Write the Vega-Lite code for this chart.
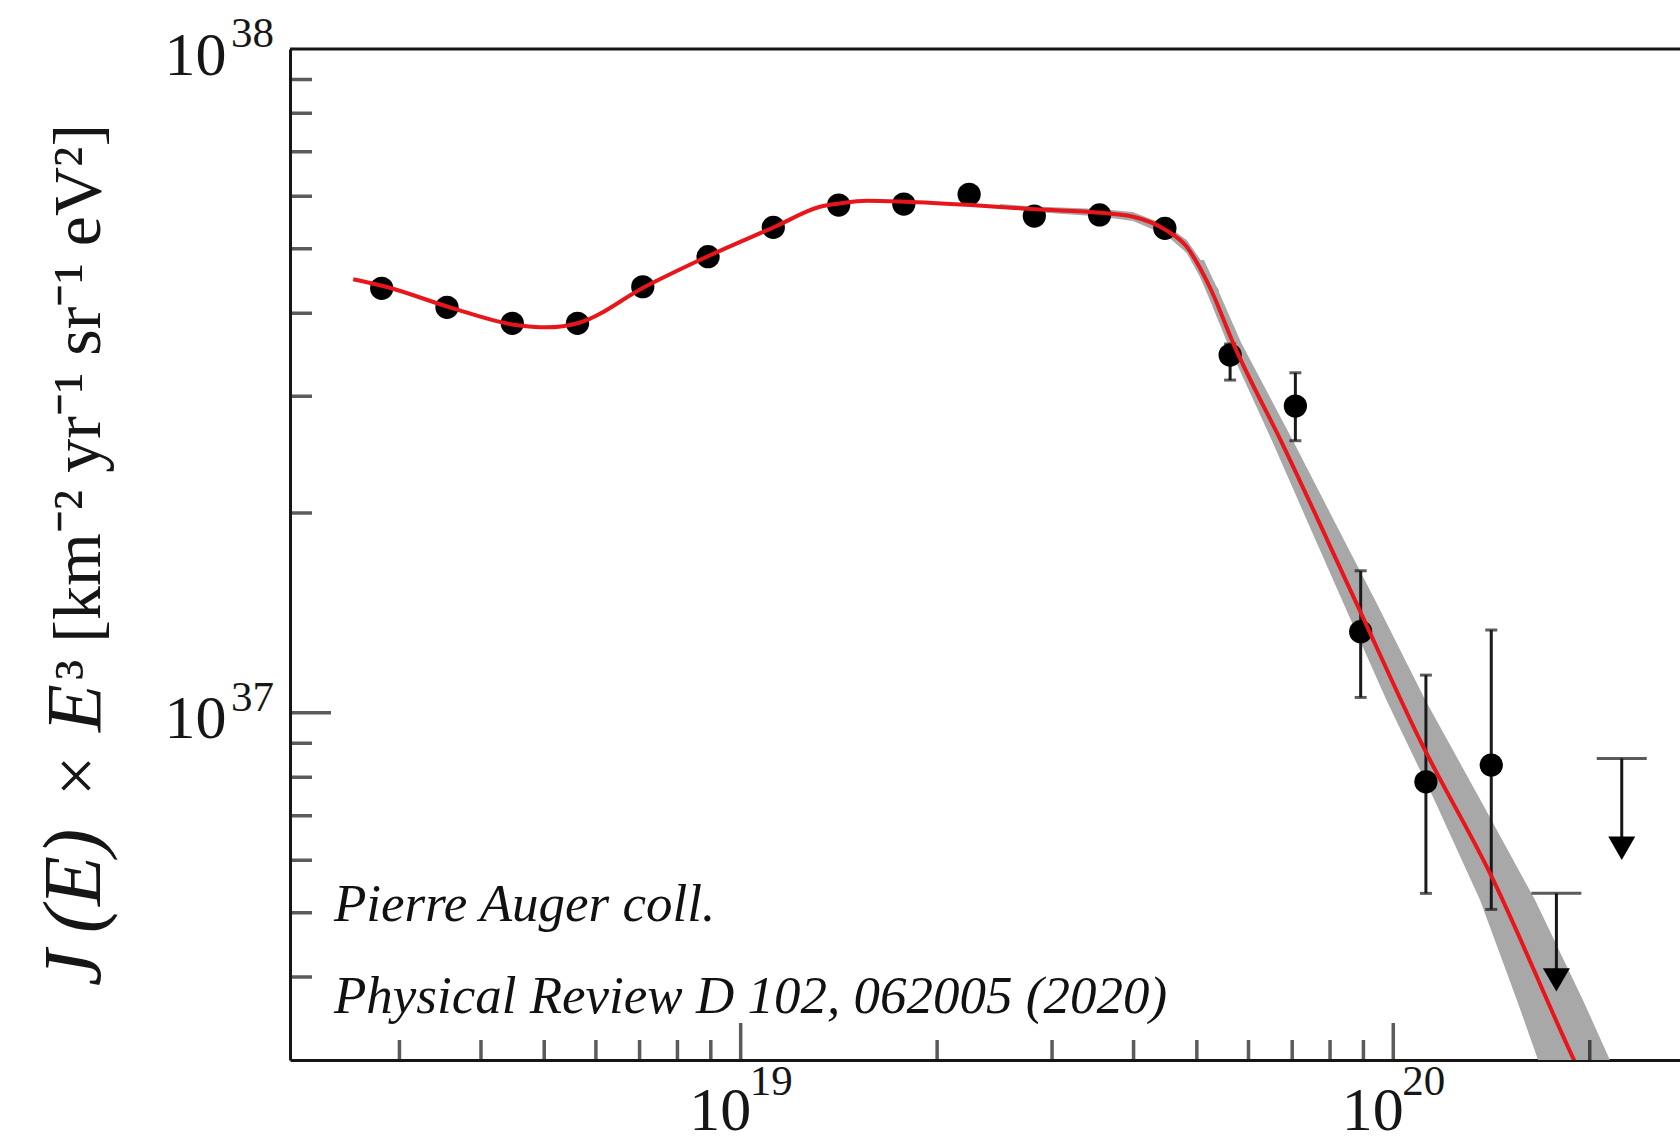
{
  "$schema": "https://vega.github.io/schema/vega-lite/v6.json",
  "width": 1390,
  "height": 1011,
  "autosize": {"type": "none"},
  "padding": {"left": 290, "top": 49, "right": 0, "bottom": 84},
  "background": "white",
  "config": {
    "view": {"stroke": null},
    "font": "Liberation Serif",
    "axis": {
      "grid": false, "ticks": false, "title": null,
      "domainColor": "#161616", "domainWidth": 3,
      "labelFont": "Liberation Serif", "labelFontSize": 62, "labelColor": "#161616",
      "labelFlush": false, "labelOverlap": false
    }
  },
  "datasets": {
    "spectrum": [
      {"E": 2.818e18, "F": 4.360e37},
      {"E": 3.548e18, "F": 4.082e37},
      {"E": 4.467e18, "F": 3.862e37},
      {"E": 5.623e18, "F": 3.862e37},
      {"E": 7.079e18, "F": 4.384e37},
      {"E": 8.913e18, "F": 4.865e37},
      {"E": 1.122e19, "F": 5.387e37},
      {"E": 1.413e19, "F": 5.821e37},
      {"E": 1.778e19, "F": 5.841e37},
      {"E": 2.239e19, "F": 6.041e37},
      {"E": 2.818e19, "F": 5.603e37},
      {"E": 3.548e19, "F": 5.623e37},
      {"E": 4.467e19, "F": 5.369e37},
      {"E": 5.623e19, "F": 3.459e37, "lo": 3.172e37, "hi": 3.594e37},
      {"E": 7.079e19, "F": 2.899e37, "lo": 2.570e37, "hi": 3.253e37},
      {"E": 8.913e19, "F": 1.325e37, "lo": 1.055e37, "hi": 1.637e37},
      {"E": 1.122e20, "F": 7.874e36, "lo": 5.347e36, "hi": 1.140e37},
      {"E": 1.413e20, "F": 8.344e36, "lo": 5.058e36, "hi": 1.333e37}
    ],
    "limits": [
      {"E": 1.778e20, "bar": 5.347e36, "arrow": 3.961e36},
      {"E": 2.239e20, "bar": 8.540e36, "arrow": 6.252e36}
    ],
    "fit": [
      {"E": 2.549e18, "F": 4.499e37},
      {"E": 2.861e18, "F": 4.384e37},
      {"E": 3.585e18, "F": 4.082e37},
      {"E": 4.522e18, "F": 3.839e37},
      {"E": 5.043e18, "F": 3.808e37},
      {"E": 5.657e18, "F": 3.870e37},
      {"E": 7.135e18, "F": 4.384e37},
      {"E": 8.995e18, "F": 4.894e37},
      {"E": 1.129e19, "F": 5.399e37},
      {"E": 1.323e19, "F": 5.785e37},
      {"E": 1.420e19, "F": 5.854e37},
      {"E": 1.560e19, "F": 5.908e37},
      {"E": 1.786e19, "F": 5.888e37},
      {"E": 2.251e19, "F": 5.821e37},
      {"E": 2.828e19, "F": 5.734e37},
      {"E": 3.561e19, "F": 5.667e37},
      {"E": 3.996e19, "F": 5.589e37},
      {"E": 4.485e19, "F": 5.336e37},
      {"E": 4.825e19, "F": 5.036e37},
      {"E": 5.056e19, "F": 4.678e37},
      {"E": 5.275e19, "F": 4.305e37},
      {"E": 5.686e19, "F": 3.602e37},
      {"E": 6.776e19, "F": 2.532e37},
      {"E": 8.736e19, "F": 1.479e37},
      {"E": 1.105e20, "F": 8.995e36},
      {"E": 1.407e20, "F": 5.730e36},
      {"E": 1.887e20, "F": 3.016e36},
      {"E": 2.073e20, "F": 2.477e36}
    ],
    "bandKnee": [
      {"E": 2.496e19, "lo": 5.761e37, "hi": 5.841e37},
      {"E": 2.825e19, "lo": 5.682e37, "hi": 5.792e37},
      {"E": 3.553e19, "lo": 5.593e37, "hi": 5.741e37},
      {"E": 3.991e19, "lo": 5.506e37, "hi": 5.682e37},
      {"E": 4.485e19, "lo": 5.245e37, "hi": 5.431e37},
      {"E": 4.825e19, "lo": 4.929e37, "hi": 5.155e37},
      {"E": 5.056e19, "lo": 4.535e37, "hi": 4.826e37},
      {"E": 5.275e19, "lo": 4.115e37, "hi": 4.487e37},
      {"E": 5.406e19, "lo": 3.879e37, "hi": 4.335e37}
    ],
    "bandTail": [
      {"F": 4.810e37, "Elo": 4.967e19, "Ehi": 5.128e19},
      {"F": 4.305e37, "Elo": 5.183e19, "Ehi": 5.406e19},
      {"F": 3.607e37, "Elo": 5.567e19, "Ehi": 5.849e19},
      {"F": 2.576e37, "Elo": 6.510e19, "Ehi": 7.010e19},
      {"F": 1.951e37, "Elo": 7.371e19, "Ehi": 8.107e19},
      {"F": 1.479e37, "Elo": 8.344e19, "Ehi": 9.376e19},
      {"F": 1.045e37, "Elo": 9.763e19, "Ehi": 1.120e20},
      {"F": 7.390e36, "Elo": 1.156e20, "Ehi": 1.360e20},
      {"F": 5.224e36, "Elo": 1.358e20, "Ehi": 1.649e20},
      {"F": 3.692e36, "Elo": 1.547e20, "Ehi": 1.953e20},
      {"F": 2.998e36, "Elo": 1.667e20, "Ehi": 2.148e20},
      {"F": 2.610e36, "Elo": 1.763e20, "Ehi": 2.297e20}
    ],
    "yMinor": [
      {"v": 4e36}, {"v": 5e36}, {"v": 6e36}, {"v": 7e36}, {"v": 8e36}, {"v": 9e36},
      {"v": 2e37}, {"v": 3e37}, {"v": 4e37}, {"v": 5e37}, {"v": 6e37}, {"v": 7e37}, {"v": 8e37}, {"v": 9e37}
    ],
    "yMajor": [{"v": 1e37}],
    "xMinor": [
      {"v": 3e18}, {"v": 4e18}, {"v": 5e18}, {"v": 6e18}, {"v": 7e18}, {"v": 8e18}, {"v": 9e18},
      {"v": 2e19}, {"v": 3e19}, {"v": 4e19}, {"v": 5e19}, {"v": 6e19}, {"v": 7e19}, {"v": 8e19}, {"v": 9e19},
      {"v": 2e20}
    ],
    "xMajor": [{"v": 1e19}, {"v": 1e20}],
    "xExp": [{"v": 1e19, "t": "19"}, {"v": 1e20, "t": "20"}],
    "yExp": [{"v": 1e37, "t": "37"}, {"v": 1e38, "t": "38"}]
  },
  "layer": [
    {
      "data": {"name": "bandKnee"},
      "mark": {"type": "area", "color": "#a8a8a8", "opacity": 1, "interpolate": "linear", "clip": true},
      "encoding": {
        "x": {
          "field": "E", "type": "quantitative",
          "scale": {"type": "log", "domain": [2.039e18, 2.75e20]},
          "axis": {
            "values": [1e19, 1e20],
            "labelExpr": "'10'",
            "ticks": false, "grid": false, "title": null,
            "domainColor": "#161616", "domainWidth": 3,
            "labelFont": "Liberation Serif", "labelFontSize": 62, "labelColor": "#161616",
            "labelAlign": "right", "labelBaseline": "alphabetic", "labelOffset": 10,
            "labelPadding": 69, "labelFlush": false, "labelOverlap": false
          }
        },
        "y": {
          "field": "hi", "type": "quantitative",
          "scale": {"type": "log", "domain": [3e36, 1e38]},
          "axis": {
            "values": [1e37, 1e38],
            "labelExpr": "'10'",
            "ticks": false, "grid": false, "title": null,
            "domainColor": "#161616", "domainWidth": 3,
            "labelFont": "Liberation Serif", "labelFontSize": 62, "labelColor": "#161616",
            "labelAlign": "right", "labelBaseline": "alphabetic", "labelOffset": 25,
            "labelPadding": 64, "labelFlush": false, "labelOverlap": false
          }
        },
        "y2": {"field": "lo"}
      }
    },
    {
      "data": {"name": "bandTail"},
      "mark": {"type": "area", "orient": "horizontal", "color": "#a8a8a8", "opacity": 1, "interpolate": "linear", "clip": true},
      "encoding": {
        "y": {"field": "F", "type": "quantitative", "scale": {"type": "log", "domain": [3e36, 1e38]}},
        "x": {"field": "Elo", "type": "quantitative", "scale": {"type": "log", "domain": [2.039e18, 2.75e20]}},
        "x2": {"field": "Ehi"}
      }
    },
    {
      "data": {"name": "spectrum"},
      "transform": [{"filter": "datum.lo != null"}],
      "mark": {"type": "rule", "color": "#1a1a1a", "strokeWidth": 3},
      "encoding": {
        "x": {"field": "E", "type": "quantitative", "scale": {"type": "log", "domain": [2.039e18, 2.75e20]}},
        "y": {"field": "lo", "type": "quantitative", "scale": {"type": "log", "domain": [3e36, 1e38]}},
        "y2": {"field": "hi"}
      }
    },
    {
      "data": {"name": "spectrum"},
      "transform": [{"filter": "datum.lo != null"}, {"fold": ["lo", "hi"], "as": ["end", "val"]}],
      "mark": {"type": "tick", "orient": "horizontal", "color": "#1a1a1a", "size": 12, "thickness": 3},
      "encoding": {
        "x": {"field": "E", "type": "quantitative", "scale": {"type": "log", "domain": [2.039e18, 2.75e20]}},
        "y": {"field": "val", "type": "quantitative", "scale": {"type": "log", "domain": [3e36, 1e38]}}
      }
    },
    {
      "data": {"name": "spectrum"},
      "mark": {"type": "point", "shape": "circle", "filled": true, "color": "#000000", "opacity": 1, "size": 540},
      "encoding": {
        "x": {"field": "E", "type": "quantitative", "scale": {"type": "log", "domain": [2.039e18, 2.75e20]}},
        "y": {"field": "F", "type": "quantitative", "scale": {"type": "log", "domain": [3e36, 1e38]}}
      }
    },
    {
      "data": {"name": "limits"},
      "mark": {"type": "rule", "color": "#161616", "strokeWidth": 3},
      "encoding": {
        "x": {"field": "E", "type": "quantitative", "scale": {"type": "log", "domain": [2.039e18, 2.75e20]}},
        "y": {"field": "bar", "type": "quantitative", "scale": {"type": "log", "domain": [3e36, 1e38]}},
        "y2": {"field": "arrow"}
      }
    },
    {
      "data": {"name": "limits"},
      "mark": {"type": "tick", "orient": "horizontal", "color": "#161616", "size": 50, "thickness": 3},
      "encoding": {
        "x": {"field": "E", "type": "quantitative", "scale": {"type": "log", "domain": [2.039e18, 2.75e20]}},
        "y": {"field": "bar", "type": "quantitative", "scale": {"type": "log", "domain": [3e36, 1e38]}}
      }
    },
    {
      "data": {"name": "limits"},
      "mark": {"type": "point", "shape": "triangle-down", "filled": true, "color": "#000000", "opacity": 1, "size": 729},
      "encoding": {
        "x": {"field": "E", "type": "quantitative", "scale": {"type": "log", "domain": [2.039e18, 2.75e20]}},
        "y": {"field": "arrow", "type": "quantitative", "scale": {"type": "log", "domain": [3e36, 1e38]}}
      }
    },
    {
      "data": {"name": "fit"},
      "mark": {"type": "line", "color": "#e8161b", "strokeWidth": 4, "interpolate": "monotone", "clip": true},
      "encoding": {
        "x": {"field": "E", "type": "quantitative", "scale": {"type": "log", "domain": [2.039e18, 2.75e20]}},
        "y": {"field": "F", "type": "quantitative", "scale": {"type": "log", "domain": [3e36, 1e38]}}
      }
    },
    {
      "data": {"name": "yMinor"},
      "mark": {"type": "tick", "orient": "horizontal", "color": "#161616", "size": 44, "thickness": 3.5, "clip": true},
      "encoding": {
        "x": {"datum": 2.039e18, "type": "quantitative", "scale": {"type": "log", "domain": [2.039e18, 2.75e20]}},
        "y": {"field": "v", "type": "quantitative", "scale": {"type": "log", "domain": [3e36, 1e38]}}
      }
    },
    {
      "data": {"name": "yMajor"},
      "mark": {"type": "tick", "orient": "horizontal", "color": "#161616", "size": 82, "thickness": 3.5, "clip": true},
      "encoding": {
        "x": {"datum": 2.039e18, "type": "quantitative", "scale": {"type": "log", "domain": [2.039e18, 2.75e20]}},
        "y": {"field": "v", "type": "quantitative", "scale": {"type": "log", "domain": [3e36, 1e38]}}
      }
    },
    {
      "data": {"name": "xMinor"},
      "mark": {"type": "tick", "orient": "vertical", "color": "#161616", "size": 40, "thickness": 3.5, "clip": true},
      "encoding": {
        "x": {"field": "v", "type": "quantitative", "scale": {"type": "log", "domain": [2.039e18, 2.75e20]}},
        "y": {"datum": 3e36, "type": "quantitative", "scale": {"type": "log", "domain": [3e36, 1e38]}}
      }
    },
    {
      "data": {"name": "xMajor"},
      "mark": {"type": "tick", "orient": "vertical", "color": "#161616", "size": 74, "thickness": 3.5, "clip": true},
      "encoding": {
        "x": {"field": "v", "type": "quantitative", "scale": {"type": "log", "domain": [2.039e18, 2.75e20]}},
        "y": {"datum": 3e36, "type": "quantitative", "scale": {"type": "log", "domain": [3e36, 1e38]}}
      }
    },
    {
      "data": {"values": [{}]},
      "mark": {"type": "rule", "color": "#161616", "strokeWidth": 3},
      "encoding": {
        "y": {"datum": 1e38, "type": "quantitative", "scale": {"type": "log", "domain": [3e36, 1e38]}}
      }
    },
    {
      "data": {"name": "xExp"},
      "mark": {"type": "text", "align": "left", "baseline": "alphabetic", "dx": 9, "dy": 35, "font": "Liberation Serif", "fontSize": 43, "color": "#161616"},
      "encoding": {
        "x": {"field": "v", "type": "quantitative", "scale": {"type": "log", "domain": [2.039e18, 2.75e20]}},
        "y": {"datum": 3e36, "type": "quantitative", "scale": {"type": "log", "domain": [3e36, 1e38]}},
        "text": {"field": "t"}
      }
    },
    {
      "data": {"name": "yExp"},
      "mark": {"type": "text", "align": "left", "baseline": "alphabetic", "dx": -59, "dy": -2, "font": "Liberation Serif", "fontSize": 43, "color": "#161616"},
      "encoding": {
        "x": {"datum": 2.039e18, "type": "quantitative", "scale": {"type": "log", "domain": [2.039e18, 2.75e20]}},
        "y": {"field": "v", "type": "quantitative", "scale": {"type": "log", "domain": [3e36, 1e38]}},
        "text": {"field": "t"}
      }
    },
    {
      "data": {"values": [{}]},
      "mark": {"type": "text", "text": "J\u2009(E)", "angle": 270, "align": "left", "baseline": "alphabetic", "dy": -190, "font": "Liberation Serif", "fontStyle": "italic", "fontSize": 82, "color": "#161616"},
      "encoding": {
        "x": {"datum": 2.039e18, "type": "quantitative", "scale": {"type": "log", "domain": [2.039e18, 2.75e20]}},
        "y": {"datum": 3.876e36, "type": "quantitative", "scale": {"type": "log", "domain": [3e36, 1e38]}}
      }
    },
    {
      "data": {"values": [{}]},
      "mark": {"type": "text", "text": "×", "angle": 270, "align": "center", "baseline": "alphabetic", "dy": -190, "font": "Liberation Serif", "fontSize": 72, "color": "#161616"},
      "encoding": {
        "x": {"datum": 2.039e18, "type": "quantitative", "scale": {"type": "log", "domain": [2.039e18, 2.75e20]}},
        "y": {"datum": 8.032e36, "type": "quantitative", "scale": {"type": "log", "domain": [3e36, 1e38]}}
      }
    },
    {
      "data": {"values": [{}]},
      "mark": {"type": "text", "text": "E", "angle": 270, "align": "left", "baseline": "alphabetic", "dy": -190, "font": "Liberation Serif", "fontStyle": "italic", "fontSize": 78, "color": "#161616"},
      "encoding": {
        "x": {"datum": 2.039e18, "type": "quantitative", "scale": {"type": "log", "domain": [2.039e18, 2.75e20]}},
        "y": {"datum": 9.357e36, "type": "quantitative", "scale": {"type": "log", "domain": [3e36, 1e38]}}
      }
    },
    {
      "data": {"values": [{}]},
      "mark": {"type": "text", "text": "³ [km⁻² yr⁻¹ sr⁻¹ eV²]", "angle": 270, "align": "left", "baseline": "alphabetic", "dy": -190, "font": "Liberation Serif", "fontSize": 68, "color": "#161616"},
      "encoding": {
        "x": {"datum": 2.039e18, "type": "quantitative", "scale": {"type": "log", "domain": [2.039e18, 2.75e20]}},
        "y": {"datum": 1.1205e37, "type": "quantitative", "scale": {"type": "log", "domain": [3e36, 1e38]}}
      }
    },
    {
      "data": {"values": [{"line": "Pierre Auger coll.", "E": 2.381e18, "F": 4.857e36}, {"line": "Physical Review D 102, 062005 (2020)", "E": 2.381e18, "F": 3.536e36}]},
      "mark": {"type": "text", "align": "left", "baseline": "alphabetic", "font": "Liberation Serif", "fontStyle": "italic", "fontSize": 53, "color": "#111111"},
      "encoding": {
        "x": {"field": "E", "type": "quantitative", "scale": {"type": "log", "domain": [2.039e18, 2.75e20]}},
        "y": {"field": "F", "type": "quantitative", "scale": {"type": "log", "domain": [3e36, 1e38]}},
        "text": {"field": "line"}
      }
    }
  ]
}
